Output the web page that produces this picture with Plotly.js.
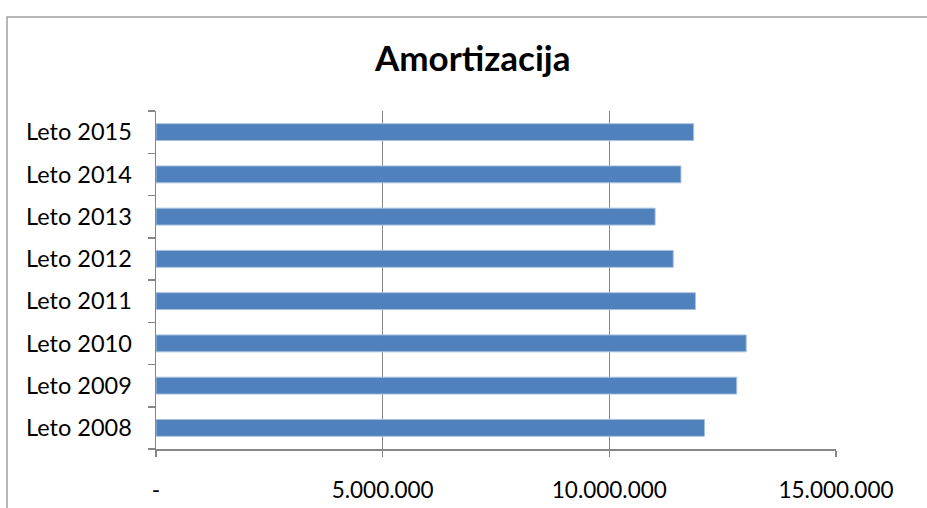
<!DOCTYPE html>
<html>
<head>
<meta charset="utf-8">
<script src="https://cdn.plot.ly/plotly-3.0.1.min.js"></script>
<style>
  html, body { margin: 0; padding: 0; background: #fff; overflow: hidden; }
  #chart { width: 927px; height: 508px; }
</style>
</head>
<body>
<div id="chart"></div>
<script>
const categories = ["Leto 2008", "Leto 2009", "Leto 2010", "Leto 2011", "Leto 2012", "Leto 2013", "Leto 2014", "Leto 2015"];
const values = [12100000, 12810000, 13020000, 11900000, 11410000, 11010000, 11580000, 11860000];
const xTickVals = [0, 5000000, 10000000, 15000000];
const xTickText = ["-", "5.000.000", "10.000.000", "15.000.000"];
const chartTitle = "Amortizacija";

const font = "Lato, 'Open Sans', sans-serif";
const gray = "#868686";

const trace = {
  type: "bar",
  orientation: "h",
  x: values,
  y: categories,
  marker: { color: "#4f81bd", line: { color: "#a9c1e0", width: 1 } },
  hoverinfo: "x+y"
};

const layout = {
  width: 927,
  height: 508,
  margin: { l: 156, r: 91, t: 111, b: 59 },
  paper_bgcolor: "#ffffff",
  plot_bgcolor: "#ffffff",
  showlegend: false,
  bargap: 0.6,
  title: {
    text: "<b>" + chartTitle + "</b>",
    font: { family: font, size: 35, color: "#000000" },
    x: 0.51, xanchor: "center",
    y: 0.885, yanchor: "middle"
  },
  xaxis: {
    range: [0, 15000000],
    tickvals: xTickVals,
    ticktext: xTickText,
    showgrid: true,
    gridcolor: gray,
    gridwidth: 1.5,
    zeroline: false,
    showline: true,
    linecolor: gray,
    linewidth: 1.5,
    ticks: "outside",
    ticklen: 6,
    tickcolor: gray,
    tickwidth: 1.5,
    ticklabelstandoff: 14,
    tickfont: { family: font, size: 22.5, color: "#000000" },
    fixedrange: true
  },
  yaxis: {
    type: "category",
    categoryorder: "array",
    categoryarray: categories,
    showgrid: false,
    zeroline: false,
    showline: true,
    linecolor: gray,
    linewidth: 1.5,
    ticks: "outside",
    tickson: "boundaries",
    ticklen: 7,
    tickcolor: gray,
    tickwidth: 1.5,
    ticklabelstandoff: 18,
    tickfont: { family: font, size: 23.5, color: "#000000" },
    fixedrange: true
  },
  shapes: [{
    type: "rect",
    xref: "paper", yref: "paper",
    x0: -149 / 680, x1: 1000 / 680,
    y0: -200 / 338, y1: 1 + 94 / 338,
    line: { color: "#a0a0a0", width: 1.5 },
    fillcolor: "rgba(0,0,0,0)",
    layer: "below"
  }]
};

Plotly.newPlot("chart", [trace], layout, { displayModeBar: false, staticPlot: true });
</script>
</body>
</html>
